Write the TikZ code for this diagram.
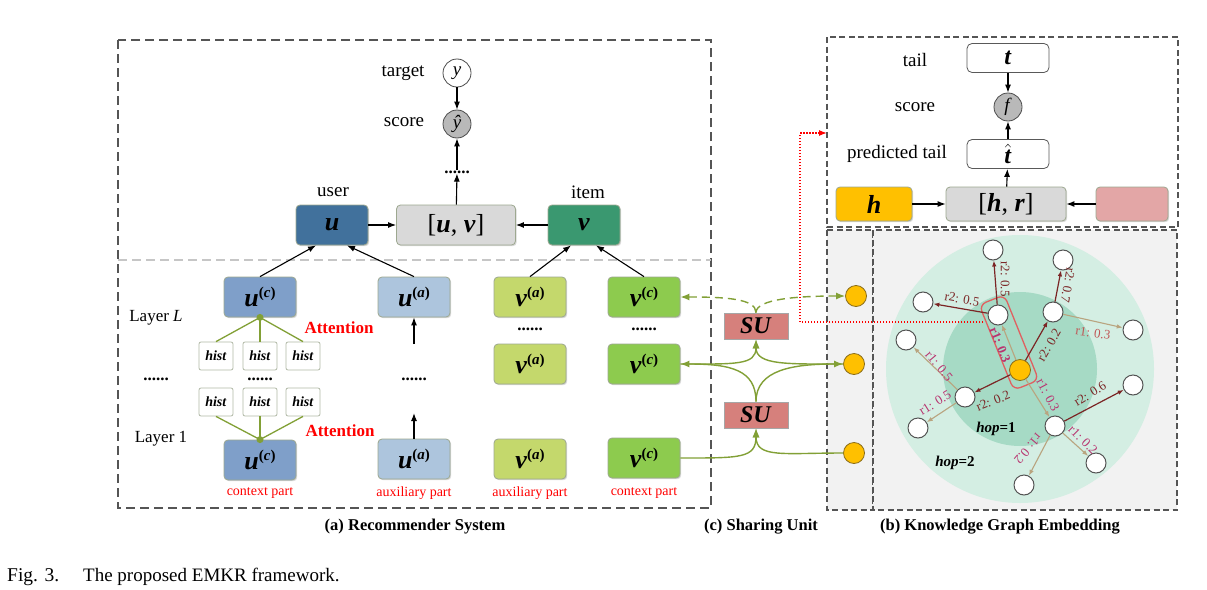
\documentclass[tikz,border=0pt]{standalone}
\usepackage{fontspec}
\setmainfont{Liberation Serif}
\usepackage{amsmath}
\usetikzlibrary{arrows.meta,shadows,calc}
\definecolor{cUblue}{HTML}{41719C}
\definecolor{cUcblue}{HTML}{7F9FC9}
\definecolor{cUablue}{HTML}{ADC5DD}
\definecolor{cVgreen}{HTML}{3A9870}
\definecolor{cVagreen}{HTML}{C4D86C}
\definecolor{cVcgreen}{HTML}{8DCB4E}
\definecolor{cBoxgray}{HTML}{D9D9D9}
\definecolor{cBorder}{HTML}{9DA890}
\definecolor{cOliv}{HTML}{82A036}
\definecolor{cSU}{HTML}{D6807C}
\definecolor{cYel}{HTML}{FFC000}
\definecolor{cYelB}{HTML}{8A6D1A}
\definecolor{cPink}{HTML}{E3A6A6}
\definecolor{cBig}{HTML}{D4EEE3}
\definecolor{cInner}{HTML}{A6DAC5}
\definecolor{cKG}{HTML}{F2F2F2}
\definecolor{cTan}{HTML}{B9A47F}
\definecolor{cDred}{HTML}{7B2525}
\definecolor{cMag}{HTML}{B8336F}
\definecolor{cLred}{HTML}{C05555}
\definecolor{cSel}{HTML}{E06060}
\definecolor{cDash}{HTML}{555555}
\newcommand\bi[1]{\textbf{\textit{#1}}}
\newcommand\mysup[1]{\raisebox{9pt}{\fontsize{15}{15}\selectfont\bfseries(\textit{#1})}}
\tikzset{
  lbl/.style={font=\fontsize{19}{22}\selectfont, inner sep=0pt},
  box/.style={draw=cBorder, line width=0.8pt, rounded corners=4pt, minimum width=72pt, minimum height=40pt,
    inner sep=0pt, font=\fontsize{26}{28}\selectfont,
    drop shadow={shadow xshift=1.2pt, shadow yshift=-1.2pt, opacity=0.25, fill=black!60}},
  wbox/.style={draw=gray!70!black, line width=0.8pt, rounded corners=5pt, fill=white, minimum width=82pt, minimum height=29pt,
    inner sep=0pt, font=\fontsize{24}{26}\selectfont},
  circ/.style={circle, draw=gray!60!black, line width=0.8pt, minimum size=28pt, inner sep=0pt, font=\fontsize{19}{20}\selectfont},
  arr/.style={draw=black, line width=1.1pt, -{Latex[length=8pt,width=6pt]}},
  histbox/.style={draw=cBorder!80, line width=0.8pt, rounded corners=2pt, fill=white, minimum width=34pt, minimum height=28pt,
    inner sep=0pt, font=\fontsize{14}{16}\selectfont},
  hline/.style={draw=cOliv, line width=1.3pt},
  gdot/.style={circle, fill=cOliv, minimum size=7pt, inner sep=0pt},
  red lbl/.style={text=red, font=\fontsize{14}{16}\selectfont, inner sep=0pt},
  att/.style={text=red, font=\fontsize{17}{19}\selectfont\bfseries, inner sep=0pt},
  dots/.style={font=\fontsize{17}{19}\selectfont\bfseries, inner sep=0pt},
  dboxl/.style={draw=cDash, line width=1.6pt, dash pattern=on 9pt off 5pt},
  dboxk/.style={draw=cDash, line width=1.2pt, dash pattern=on 6pt off 3.5pt},
  su/.style={draw=gray!70, line width=0.8pt, fill=cSU, minimum width=64pt, minimum height=26pt, inner sep=0pt,
    font=\fontsize{24}{26}\selectfont, drop shadow={shadow xshift=1.2pt, shadow yshift=-1.2pt, opacity=0.25, fill=black!60}},
  ycirc/.style={circle, draw=cYelB, line width=0.8pt, fill=cYel, minimum size=21pt, inner sep=0pt},
  wn/.style={circle, draw=gray!65!black, line width=1pt, fill=white, minimum size=20pt, inner sep=0pt},
  gsol/.style={draw=cOliv, line width=1.4pt, -{Latex[length=9pt,width=7pt]}},
  gdash/.style={draw=cOliv, line width=1.4pt, dash pattern=on 8pt off 5pt, -{Latex[length=9pt,width=7pt]}},
  tanE/.style={draw=cTan, line width=1.1pt, -{Latex[length=6pt,width=4.5pt]}},
  redE/.style={draw=cDred, line width=1.2pt, -{Latex[length=6pt,width=4.5pt]}},
  lr1/.style={text=cMag, font=\fontsize{13}{14}\selectfont, inner sep=0pt},
  lr2/.style={text=cDred, font=\fontsize{13}{14}\selectfont, inner sep=0pt},
  captxt/.style={font=\fontsize{16.5}{18}\selectfont\bfseries, inner sep=0pt},
}
\begin{document}
\begin{tikzpicture}[x=1pt,y=-1pt]
\useasboundingbox (0,0) rectangle (1207,589);
\fill[white] (0,0) rectangle (1207,589);

%% ---------------- (a) Recommender System ----------------
\draw[dboxl] (118,40) rectangle (711,508);
\draw[draw=gray!45, line width=1.5pt, dash pattern=on 9pt off 5pt] (118,260) -- (711,260);

\node[lbl] (tgtl) at (403,73) {target};
\node[circ, fill=white] (yc) at (457,73) {\textit{y}};
\node[lbl] (scl) at (404,122) {score};
\node[circ, fill=gray!55] (yh) at (457,124) {\textit{\^{y}}};
\node[dots] (d0) at (457,172) {......};
\node[lbl] (userl) at (333,192) {user};
\node[lbl] (iteml) at (588,192) {item};
\node[box, fill=cUblue] (u) at (332,225) {\bi{u}};
\node[box, fill=cBoxgray, minimum width=119pt] (uv) at (456,225) {[\bi{u}, \bi{v}]};
\node[box, fill=cVgreen] (v) at (584,225) {\bi{v}};
\draw[arr] (yc) -- (yh);
\draw[arr] (d0) -- (yh);
\draw[arr] (uv) -- (d0);
\draw[arr] (u) -- (uv);
\draw[arr] (v) -- (uv);

\node[box, fill=cUcblue] (uct) at (260,297) {\bi{u}\mysup{c}};
\node[box, fill=cUablue] (uat) at (414,297) {\bi{u}\mysup{a}};
\node[box, fill=cVagreen] (vat) at (530,297) {\bi{v}\mysup{a}};
\node[box, fill=cVcgreen] (vct) at (644,297) {\bi{v}\mysup{c}};
\node[box, fill=cVagreen] (vam) at (530,364) {\bi{v}\mysup{a}};
\node[box, fill=cVcgreen] (vcm) at (644,364) {\bi{v}\mysup{c}};
\node[box, fill=cUcblue] (ucb) at (260,460) {\bi{u}\mysup{c}};
\node[box, fill=cUablue] (uab) at (414,459) {\bi{u}\mysup{a}};
\node[box, fill=cVagreen] (vab) at (530,459) {\bi{v}\mysup{a}};
\node[box, fill=cVcgreen] (vcb) at (644,458) {\bi{v}\mysup{c}};

\draw[arr] (uct.north) -- ([xshift=-16pt]u.south);
\draw[arr] (uat.north) -- ([xshift=15pt]u.south);
\draw[arr] (vat.north) -- ([xshift=-13pt]v.south);
\draw[arr] (vct.north) -- ([xshift=12pt]v.south);

\node[histbox] (h11) at (216,356) {\bi{hist}};
\node[histbox] (h12) at (260,356) {\bi{hist}};
\node[histbox] (h13) at (303,356) {\bi{hist}};
\node[histbox] (h21) at (216,402) {\bi{hist}};
\node[histbox] (h22) at (260,402) {\bi{hist}};
\node[histbox] (h23) at (303,402) {\bi{hist}};
\node[gdot] (dt) at (uct.south) {};
\node[gdot] (db) at (ucb.north) {};
\draw[hline] (dt.center) -- (h11.north);
\draw[hline] (dt.center) -- (h12.north);
\draw[hline] (dt.center) -- (h13.north);
\draw[hline] (db.center) -- (h21.south);
\draw[hline] (db.center) -- (h22.south);
\draw[hline] (db.center) -- (h23.south);

\node[lbl, font=\fontsize{17}{19}\selectfont] (layL) at (156,318) {Layer \textit{L}};
\node[lbl, font=\fontsize{17}{19}\selectfont] (lay1) at (161,439) {Layer 1};
\node[att] (att1) at (339,328) {Attention};
\node[att] (att2) at (340,431) {Attention};
\node[dots] (dl) at (156,379) {......};
\node[dots] (dm) at (260,379) {......};
\node[dots] (dua) at (414,379) {......};
\node[dots] (dva) at (530,329) {......};
\node[dots] (dvc) at (644,329) {......};
\coordinate (ua1) at (414,344);
\coordinate (ua2) at (414,413);
\draw[arr] (ua1) -- (uat.south);
\draw[arr] (uab.north) -- (ua2);

\node[red lbl] (rl1) at (260,493) {context part};
\node[red lbl] (rl2) at (414,493) {auxiliary part};
\node[red lbl] (rl3) at (530,493) {auxiliary part};
\node[red lbl] (rl4) at (644,493) {context part};
\node[captxt] (capa) at (415,527) {(a) Recommender System};

%% ---------------- KG panels ----------------
\draw[dboxk, fill=cKG] (827,230) rectangle (873,510);
\draw[dboxk, fill=cKG] (873,230) rectangle (1177,510);
\draw[dboxk] (827,37) rectangle (1178,227);

\node[lbl] (taill) at (915,60) {tail};
\node[wbox] (t) at (1008,58) {\bi{t}};
\node[lbl] (scl2) at (915,107) {score};
\node[circ, fill=gray!55] (f) at (1008,107) {\textit{f}};
\node[lbl] (ptl) at (897,154) {predicted tail};
\node[wbox] (th) at (1008,154) {$\hat{\text{\bi{t}}}$};
\node[box, fill=cYel, minimum width=76pt, minimum height=34pt] (h) at (874,204) {\bi{h}};
\node[box, fill=cBoxgray, minimum width=120pt, minimum height=34pt] (hr) at (1006,204) {[\bi{h}, \bi{r}]};
\node[box, fill=cPink, minimum width=72pt, minimum height=34pt] (rr) at (1132,204) {};
\draw[arr] (h) -- (hr);
\draw[arr] (rr) -- (hr);
\draw[arr] (hr) -- (th);
\draw[arr] (th) -- (f);
\draw[arr] (t) -- (f);

%% KG graph
\fill[cBig] (1020,369) circle[radius=134pt];
\fill[cInner] (1020,369) circle[radius=77pt];
\node[ycirc] (K) at (1020,370) {};
\node[wn] (A) at (998,315) {};
\node[wn] (B) at (1053,312) {};
\node[wn] (C) at (965,397) {};
\node[wn] (D) at (1055,426) {};
\node[wn] (A1) at (993,250) {};
\node[wn] (A2) at (923,302) {};
\node[wn] (B1) at (1063,260) {};
\node[wn] (B2) at (1133,330) {};
\node[wn] (C1) at (906,340) {};
\node[wn] (C2) at (918,428) {};
\node[wn] (D1) at (1133,385) {};
\node[wn] (D2) at (1096,463) {};
\node[wn] (D3) at (1024,485) {};
\node[draw=cSel, line width=1.3pt, rounded corners=7pt, minimum width=92pt, minimum height=27pt, rotate=-68]
  (sel) at ($(A)!0.5!(K)$) {};

\draw[tanE] (K) -- (A);
\draw[redE] (K) -- (B);
\draw[redE] (K) -- (C);
\draw[tanE] (K) -- (D);
\draw[redE] (A) -- (A1);
\draw[redE] (A) -- (A2);
\draw[redE] (B) -- (B1);
\draw[tanE] (B) -- (B2);
\draw[tanE] (C) -- (C1);
\draw[tanE] (C) -- (C2);
\draw[redE] (D) -- (D1);
\draw[tanE] (D) -- (D2);
\draw[tanE] (D) -- (D3);

\node[lr2, rotate=-90] at (1005,279) {r2: 0.5};
\node[lr2, rotate=-10] at (962,299) {r2: 0.5};
\node[lr1, rotate=-68, font=\fontsize{13}{14}\selectfont\bfseries] at (1000,345) {r1: 0.3};
\node[lr2, rotate=-100] at (1068,285) {r2: 0.7};
\node[lr2, rotate=60] at (1049,345) {r2: 0.2};
\node[lr1, text=cLred, rotate=-8] at (1093,333) {r1: 0.3};
\node[lr1, rotate=-50] at (939,366) {r1: 0.5};
\node[lr1, rotate=32] at (935,403) {r1: 0.5};
\node[lr2, rotate=22] at (993,401) {r2: 0.2};
\node[lr1, rotate=-62] at (1048,395) {r1: 0.3};
\node[lr2, rotate=32] at (1090,394) {r2: 0.6};
\node[lr1, rotate=-45] at (1083,440) {r1: 0.2};
\node[lr1, rotate=-130] at (1028,449) {r1: 0.2};
\node[inner sep=0pt, font=\fontsize{15}{17}\selectfont] (hop1) at (996,429) {\bi{hop}\textbf{=1}};
\node[inner sep=0pt, font=\fontsize{15}{17}\selectfont] (hop2) at (955,463) {\bi{hop}\textbf{=2}};

%% ---------------- Sharing unit ----------------
\node[ycirc] (k1) at (856,296) {};
\node[ycirc] (k2) at (854,364) {};
\node[ycirc] (k3) at (854,453) {};
\node[su] (su1) at (756,326) {\bi{SU}};
\node[su] (su2) at (756,415) {\bi{SU}};

\draw[gdash] (su1.north) .. controls +(0,-14) and +(45,0) .. (vct.east);
\draw[gdash] (su1.north) .. controls +(0,-14) and +(-45,0) .. (k1.west);
\draw[gsol] (su2.north) .. controls +(0,-32) and +(50,0) .. (vcm.east);
\draw[gsol] (su2.north) .. controls +(0,-32) and +(-50,0) .. (k2.west);
\draw[gsol] (vcm.east) .. controls +(55,0) and +(0,26) .. (su1.south);
\draw[gsol] (k2.west) .. controls +(-55,0) and +(0,26) .. (su1.south);
\draw[gsol] (vcb.east) .. controls +(60,0) and +(0,30) .. (su2.south);
\draw[gsol] (k3.west) .. controls +(-60,0) and +(0,30) .. (su2.south);

\coordinate (rs) at (983,322);
\coordinate (rtgt) at (827,133);
\draw[red, line width=1.3pt, dash pattern=on 1.5pt off 1.5pt, -{Latex[length=8pt,width=6pt]}] (rs) -- (800,322) |- (rtgt);

\node[captxt] (capc) at (761,527) {(c) Sharing Unit};
\node[captxt] (capb) at (1000,527) {(b) Knowledge Graph Embedding};

\node[anchor=west, inner sep=0pt, font=\fontsize{19.5}{21}\selectfont] (fig) at (7,577) {Fig. 3.};
\node[anchor=west, inner sep=0pt, font=\fontsize{19}{21}\selectfont] (figt) at (83,577) {The proposed EMKR framework.};
\end{tikzpicture}
\end{document}
